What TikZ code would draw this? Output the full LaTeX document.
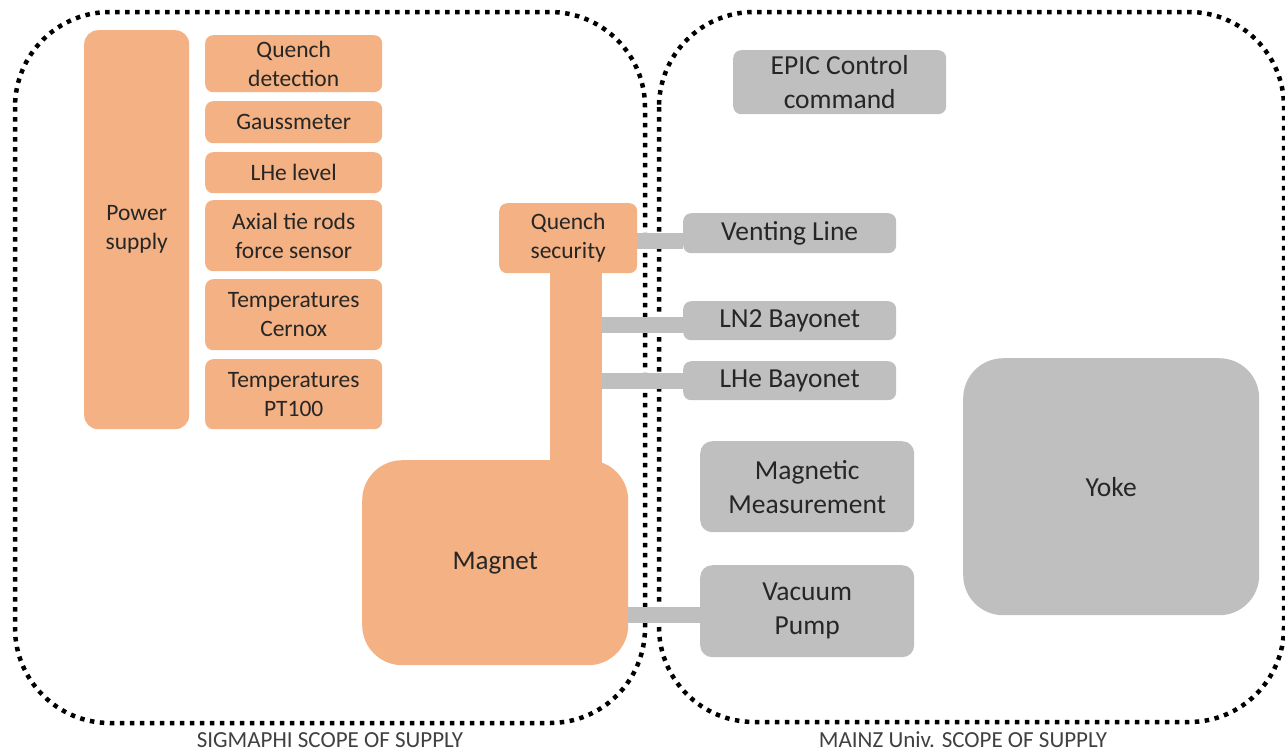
\documentclass[tikz,border=0pt]{standalone}
\usepackage{fontspec}
\setmainfont{Carlito}
\definecolor{org}{HTML}{F4B183}
\definecolor{gry}{HTML}{BFBFBF}
\definecolor{txt}{HTML}{262626}
\begin{document}
\begin{tikzpicture}[x=1pt,y=-1pt,
  obox/.style={fill=org,draw=none,rounded corners=8pt,anchor=north west,inner sep=0pt,align=center,text=txt,font=\fontsize{23.5}{29}\selectfont},
  gbox/.style={fill=gry,draw=none,rounded corners=8pt,anchor=north west,inner sep=0pt,align=center,text=txt,font=\fontsize{27.5}{34}\selectfont},
  conn/.style={draw=gry,line width=16pt},
  scope border/.style={draw=black,line width=4.5pt,dash pattern=on 4.5pt off 5.5pt,rounded corners=95pt},
  caption/.style={text=black!75,font=\fontsize{23}{27}\selectfont,inner sep=0pt}]
\useasboundingbox (0,0) rectangle (1285,753);
% scope borders
\draw[scope border] (15,12) rectangle (645,723);
\draw[scope border] (659,12) rectangle (1284,722);
% left boxes
\node[obox,rounded corners=14pt,minimum width=105pt,minimum height=399pt] (ps) at (84,30) {Power\\supply};
\node[obox,minimum width=177pt,minimum height=57pt] (qd) at (205,35) {Quench\\detection};
\node[obox,minimum width=177pt,minimum height=42pt] (gm) at (205,101) {Gaussmeter};
\node[obox,minimum width=177pt,minimum height=41pt] (lhl) at (205,152) {LHe level};
\node[obox,minimum width=177pt,minimum height=71pt] (ax) at (205,200) {Axial tie rods\\force sensor};
\node[obox,minimum width=177pt,minimum height=71pt] (tc) at (205,279) {Temperatures\\Cernox};
\node[obox,minimum width=177pt,minimum height=70pt] (tp) at (205,359) {Temperatures\\PT100};
\node[obox,rounded corners=0pt,minimum width=52pt,minimum height=200pt] (stem) at (550,268) {};
\node[obox,minimum width=138pt,minimum height=70pt] (qs) at (499,203) {Quench\\security};
\node[obox,rounded corners=40pt,minimum width=266pt,minimum height=205pt,font=\fontsize{27}{32}\selectfont] (mag) at (362,460) {Magnet};
% right boxes
\node[gbox,minimum width=213pt,minimum height=64pt] (epic) at (733,50) {EPIC Control\\command};
\node[gbox,minimum width=213pt,minimum height=40pt] (vent) at (683,213) {Venting Line};
\node[gbox,minimum width=213pt,minimum height=39pt] (ln2) at (683,301) {LN2 Bayonet};
\node[gbox,minimum width=213pt,minimum height=39pt] (lhe) at (683,361) {LHe Bayonet};
\node[gbox,rounded corners=12pt,minimum width=214pt,minimum height=91pt] (mm) at (700,441) {Magnetic\\Measurement};
\node[gbox,rounded corners=12pt,minimum width=214pt,minimum height=92pt] (vp) at (700,565) {Vacuum\\Pump};
\node[gbox,rounded corners=40pt,minimum width=296pt,minimum height=257pt] (yoke) at (963,358) {Yoke};
% connectors
\draw[conn] ([yshift=-3pt]qs.east) -- ([yshift=-3pt]qs.east -| vent.west);
\draw[conn] ([yshift=-4.5pt]stem.east |- ln2.west) -- ([yshift=-4.5pt]ln2.west);
\draw[conn] (stem.east |- lhe.west) -- (lhe.west);
\draw[conn] ([yshift=-4pt]mag.east |- vp.west) -- ([yshift=-4pt]vp.west);
% captions
\node[caption] (capl) at (330,740) {SIGMAPHI SCOPE OF SUPPLY};
\node[caption] (capr) at (963,740) {MAINZ Univ. SCOPE OF SUPPLY};
\end{tikzpicture}
\end{document}
